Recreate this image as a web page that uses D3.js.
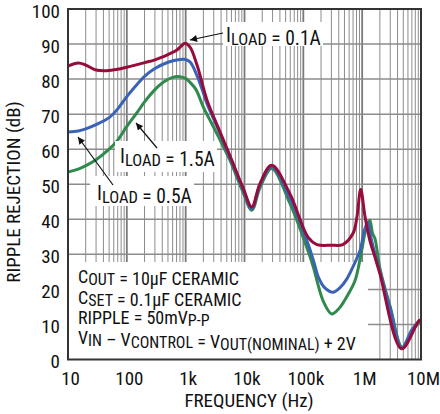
<!DOCTYPE html>
<html>
<head>
<meta charset="utf-8">
<script src="https://cdn.jsdelivr.net/npm/d3@7"></script>
<style>
  body { margin: 0; background: #fff; }
  svg text { font-family: "Liberation Sans Narrow", "Arial Narrow", "Roboto Condensed", sans-serif; fill: #111; }
</style>
</head>
<body>
<svg id="chart" width="440" height="414"></svg>
<script>
const width = 440;
const height = 414;
const margin = {top: 9, right: 19, bottom: 54, left: 68};

// tick values and labels
const freqTicks = [10, 100, 1e3, 1e4, 1e5, 1e6, 1e7];
const freqLabels = ["10", "100", "1k", "10k", "100k", "1M", "10M"];
const dbTicks = [0, 10, 20, 30, 40, 50, 60, 70, 80, 90, 100];

// I_LOAD = 0.1A (red)
const redFreq = [10, 15, 20, 30, 45, 70, 100, 200, 300, 500, 700, 850, 975, 1186, 1560, 2306, 3548, 5600, 9400, 13300, 18300, 29000, 59000, 120000, 170000, 300000, 470000, 700000, 815000, 944000, 1120000, 1350000, 1650000, 2000000, 4680000, 8900000, 9800000];
const redDb = [83.7, 84.6, 84.0, 82.6, 82.4, 82.8, 83.4, 84.7, 85.5, 87, 88.2, 89.5, 90.2, 89.1, 84, 74, 66.3, 58.3, 49.1, 43.5, 50.2, 55.4, 47.3, 34.9, 32.8, 32.6, 32.8, 36, 40.7, 48.5, 40.7, 34, 29.2, 24.5, 3.05, 10.7, 11.3];

// I_LOAD = 0.5A (blue)
const blueFreq = [10, 15, 20, 30, 50, 70, 100, 150, 200, 300, 500, 800, 1000, 1200, 1560, 2000, 2306, 3548, 5600, 9400, 13300, 18300, 29000, 59000, 120000, 150000, 180000, 230000, 320000, 420000, 550000, 700000, 920000, 980000, 1100000, 1250000, 1400000, 1600000, 2000000, 3000000, 4700000, 7000000, 9600000];
const blueDb = [64.9, 65.2, 65.8, 67, 69, 71.5, 75, 78.5, 80.8, 83, 84.8, 85.6, 85.6, 84.8, 81, 76, 73, 65.8, 57.8, 48.6, 43, 49.7, 55, 46, 33, 28, 23.5, 20.5, 19.2, 20.5, 23, 26.5, 31, 33, 37, 39.2, 35, 31, 25, 14.5, 3.3, 8.5, 11.3];

// I_LOAD = 1.5A (green)
const greenFreq = [10, 15, 20, 30, 50, 70, 100, 150, 200, 300, 400, 600, 800, 1000, 1200, 1500, 2000, 2760, 3548, 5600, 9400, 13300, 18300, 29000, 59000, 120000, 150000, 180000, 220000, 303000, 400000, 550000, 760000, 980000, 1150000, 1350000, 1500000, 1650000, 2000000, 3000000, 4800000, 7000000, 9600000];
const greenDb = [53.5, 54.3, 55.3, 57, 60, 62.6, 66.5, 70.5, 73.5, 77, 78.9, 80.5, 80.7, 80.2, 79, 77, 72, 67.4, 63.8, 57, 47.8, 42.6, 49, 54.5, 44.6, 31, 26, 21, 16.5, 13, 14.5, 18, 22.6, 31.1, 37, 39.7, 36, 34.5, 26, 15, 3.5, 8, 11];

const series = [
  {name: "1.5A", color: "#2f8a4c", f: greenFreq, v: greenDb},
  {name: "0.5A", color: "#3b63b5", f: blueFreq, v: blueDb},
  {name: "0.1A", color: "#960c3c", f: redFreq, v: redDb}
];

const svg = d3.select("#chart");

const x = d3.scaleLog().domain([10, 1e7]).range([margin.left, width - margin.right]);
const y = d3.scaleLinear().domain([0, 100]).range([height - margin.bottom - 0.5, margin.top]);

// grid - minor decade lines
const minor = [];
for (let dec = 10; dec < 1e7; dec *= 10) {
  for (let k = 2; k <= 9; k++) minor.push(dec * k);
}
const grid = svg.append("g");
grid.selectAll(".minor").data(minor).join("line")
    .attr("x1", d => x(d)).attr("x2", d => x(d))
    .attr("y1", y(100)).attr("y2", y(0))
    .attr("stroke", "#8c8c8c").attr("stroke-width", 1);
grid.selectAll(".major").data(freqTicks.slice(1, -1)).join("line")
    .attr("x1", d => x(d)).attr("x2", d => x(d))
    .attr("y1", y(100)).attr("y2", y(0))
    .attr("stroke", "#7a7a7a").attr("stroke-width", 1.8);
grid.selectAll(".hline").data(dbTicks.slice(1, -1)).join("line")
    .attr("x1", x(10)).attr("x2", x(1e7))
    .attr("y1", d => y(d)).attr("y2", d => y(d))
    .attr("stroke", "#8c8c8c").attr("stroke-width", 1.5);

// white note box over the grid
svg.append("rect")
    .attr("x", x(10)).attr("y", 262)
    .attr("width", 368 - x(10)).attr("height", y(0) - 262)
    .attr("fill", "#fff");

// curves
const line = d3.line()
    .x(d => x(d[0]))
    .y(d => y(d[1]))
    .curve(d3.curveCatmullRom.alpha(0.5));

svg.append("g").selectAll("path").data(series).join("path")
    .attr("d", s => line(s.f.map((f, i) => [f, s.v[i]])))
    .attr("fill", "none")
    .attr("stroke", s => s.color)
    .attr("stroke-width", 3)
    .attr("stroke-linejoin", "round");

// frame
svg.append("rect")
    .attr("x", x(10)).attr("y", y(100))
    .attr("width", x(1e7) - x(10)).attr("height", y(0) - y(100))
    .attr("fill", "none").attr("stroke", "#333").attr("stroke-width", 2);

// axes
const xAxis = svg.append("g")
    .attr("transform", `translate(2,${y(0)})`)
    .call(d3.axisBottom(x).tickValues(freqTicks).tickFormat((d, i) => freqLabels[i]).tickSize(0).tickPadding(12));
const yAxis = svg.append("g")
    .attr("transform", `translate(${x(10) - 8},2)`)
    .call(d3.axisLeft(y).tickValues(dbTicks).tickSize(0).tickPadding(0));
[xAxis, yAxis].forEach(a => {
  a.select(".domain").remove();
  a.selectAll("text").style("font-size", "19px").attr("fill", "#111");
});

svg.append("text")
    .attr("x", 249).attr("y", 407)
    .attr("text-anchor", "middle")
    .style("font-size", "19px")
    .text("FREQUENCY (Hz)");
svg.append("text")
    .attr("transform", "translate(20,192) rotate(-90)")
    .attr("text-anchor", "middle")
    .style("font-size", "19px")
    .text("RIPPLE REJECTION (dB)");

// text with subscripts
function richText(parent, xPos, yPos, parts, size, subSize, subShift) {
  const t = parent.append("text").attr("x", xPos).attr("y", yPos).style("font-size", size + "px");
  parts.forEach(p => {
    const sub = p[1];
    t.append("tspan")
        .attr("dy", sub ? subShift : 0)
        .style("font-size", (sub ? subSize : size) + "px")
        .text(p[0]);
    if (sub) t.append("tspan").attr("dy", -subShift).text("");
  });
  return t;
}

const notes = svg.append("g");
richText(notes, 78, 283, [["C"], ["OUT", 1], [" = 10µF CERAMIC"]], 18, 16, 2);
richText(notes, 78, 303.5, [["C"], ["SET", 1], [" = 0.1µF CERAMIC"]], 18, 16, 2);
richText(notes, 78, 324, [["RIPPLE = 50mV"], ["P-P", 1]], 18, 16, 2);
richText(notes, 78, 344, [["V"], ["IN", 1], [" – V"], ["CONTROL", 1], [" = V"], ["OUT(NOMINAL)", 1], [" + 2V"]], 18, 16, 2);

// arrow marker
svg.append("defs").append("marker")
    .attr("id", "head")
    .attr("viewBox", "0 0 10 10")
    .attr("refX", 10).attr("refY", 5)
    .attr("markerWidth", 9).attr("markerHeight", 7)
    .attr("markerUnits", "userSpaceOnUse")
    .attr("orient", "auto")
  .append("path").attr("d", "M0,0L10,5L0,10z").attr("fill", "#111");

// load labels
const labels = [
  {box: [223, 22, 100, 24], tx: 226, ty: 42, val: " = 0.1A", arrow: [223, 33, 190, 40]},
  {box: [115, 141, 102, 31], tx: 120, ty: 163, val: " = 1.5A", arrow: [157, 148, 136, 123]},
  {box: [90, 176, 104, 30], tx: 97, ty: 200, val: " = 0.5A", arrow: [113, 185, 78, 137]}
];
const lab = svg.append("g");
labels.forEach(l => {
  lab.append("rect")
      .attr("x", l.box[0]).attr("y", l.box[1])
      .attr("width", l.box[2]).attr("height", l.box[3])
      .attr("fill", "#fff");
  lab.append("line")
      .attr("x1", l.arrow[0]).attr("y1", l.arrow[1])
      .attr("x2", l.arrow[2]).attr("y2", l.arrow[3])
      .attr("stroke", "#111").attr("stroke-width", 1.2)
      .attr("marker-end", "url(#head)");
  richText(lab, l.tx, l.ty, [["I"], ["LOAD", 1], [l.val]], 19.5, 16.5, 2.5);
});
</script>
</body>
</html>
